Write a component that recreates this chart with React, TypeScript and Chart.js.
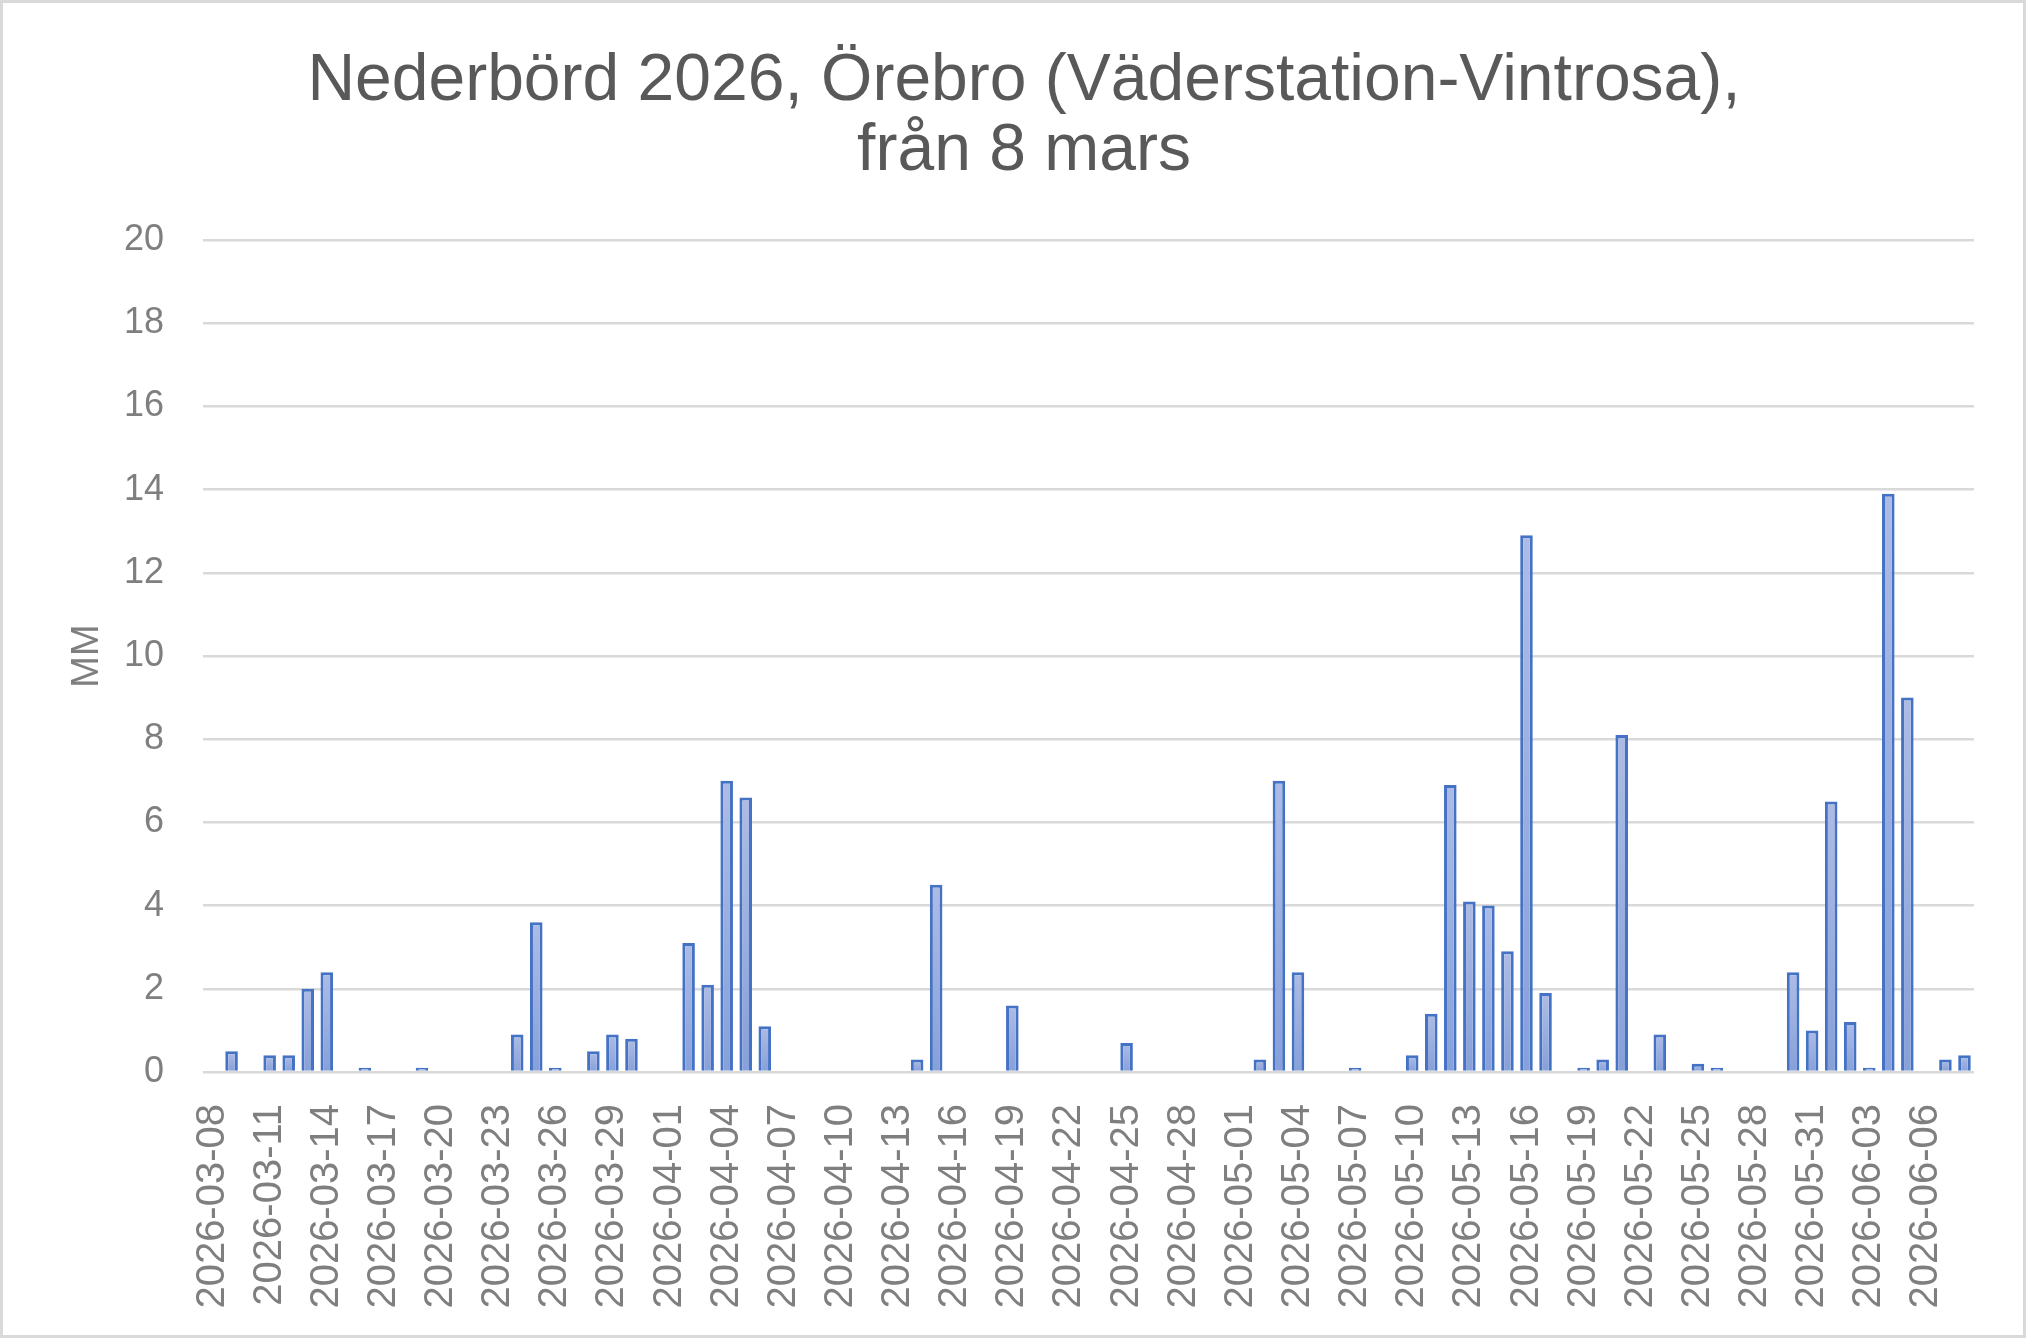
import React, { useEffect, useRef } from "react";
import { Chart, registerables } from "chart.js";

Chart.register(...registerables);

const titleLines = ["Nederbörd 2026, Örebro (Väderstation-Vintrosa),", "från 8 mars"];
const yAxisTitle = "MM";

const marchDates = [
  "2026-03-08", "2026-03-09", "2026-03-10", "2026-03-11", "2026-03-12", "2026-03-13", "2026-03-14", "2026-03-15",
  "2026-03-16", "2026-03-17", "2026-03-18", "2026-03-19", "2026-03-20", "2026-03-21", "2026-03-22", "2026-03-23",
  "2026-03-24", "2026-03-25", "2026-03-26", "2026-03-27", "2026-03-28", "2026-03-29", "2026-03-30", "2026-03-31",
];
const aprilDates = [
  "2026-04-01", "2026-04-02", "2026-04-03", "2026-04-04", "2026-04-05", "2026-04-06", "2026-04-07", "2026-04-08",
  "2026-04-09", "2026-04-10", "2026-04-11", "2026-04-12", "2026-04-13", "2026-04-14", "2026-04-15", "2026-04-16",
  "2026-04-17", "2026-04-18", "2026-04-19", "2026-04-20", "2026-04-21", "2026-04-22", "2026-04-23", "2026-04-24",
  "2026-04-25", "2026-04-26", "2026-04-27", "2026-04-28", "2026-04-29", "2026-04-30",
];
const mayDates = [
  "2026-05-01", "2026-05-02", "2026-05-03", "2026-05-04", "2026-05-05", "2026-05-06", "2026-05-07", "2026-05-08",
  "2026-05-09", "2026-05-10", "2026-05-11", "2026-05-12", "2026-05-13", "2026-05-14", "2026-05-15", "2026-05-16",
  "2026-05-17", "2026-05-18", "2026-05-19", "2026-05-20", "2026-05-21", "2026-05-22", "2026-05-23", "2026-05-24",
  "2026-05-25", "2026-05-26", "2026-05-27", "2026-05-28", "2026-05-29", "2026-05-30", "2026-05-31",
];
const juneDates = [
  "2026-06-01", "2026-06-02", "2026-06-03", "2026-06-04", "2026-06-05", "2026-06-06", "2026-06-07", "2026-06-08",
];

const marchMm = [0, 0.5, 0, 0.4, 0.4, 2.0, 2.4, 0, 0.1, 0, 0, 0.1, 0, 0, 0, 0, 0.9, 3.6, 0.1, 0, 0.5, 0.9, 0.8, 0];
const aprilMm = [0, 3.1, 2.1, 7.0, 6.6, 1.1, 0, 0, 0, 0, 0, 0, 0, 0.3, 4.5, 0, 0, 0, 1.6, 0, 0, 0, 0, 0, 0.7, 0, 0, 0, 0, 0];
const mayMm = [0, 0.3, 7.0, 2.4, 0, 0, 0.1, 0, 0, 0.4, 1.4, 6.9, 4.1, 4.0, 2.9, 12.9, 1.9, 0, 0.1, 0.3, 8.1, 0, 0.9, 0, 0.2, 0.1, 0, 0, 0, 2.4, 1.0];
const juneMm = [6.5, 1.2, 0.1, 13.9, 9.0, 0, 0.3, 0.4];

const yTicks = [0, 2, 4, 6, 8, 10, 12, 14, 16, 18, 20];
const labelEvery = 3;

const W = 2026;
const H = 1340;
const PAD_LEFT = 74;
const PAD_RIGHT = 52;
const PLOT_LEFT = 203;

export default function App() {
  const canvasRef = useRef<HTMLCanvasElement | null>(null);

  useEffect(() => {
    const canvas = canvasRef.current;
    if (!canvas) return;
    const categories = [...marchDates, ...aprilDates, ...mayDates, ...juneDates];
    const values = [...marchMm, ...aprilMm, ...mayMm, ...juneMm];

    const chart = new Chart(canvas, {
      type: "bar",
      data: {
        labels: categories,
        datasets: [
          {
            label: "Nederbörd",
            data: values,
            backgroundColor: (ctx: any) => {
              const fallback = "#9db0df";
              if (ctx.type !== "data") return fallback;
              const c = ctx.chart;
              const ys = c.scales && c.scales.y;
              if (!ys || !ctx.parsed) return fallback;
              const top = ys.getPixelForValue(ctx.parsed.y);
              const bot = ys.getPixelForValue(0);
              if (!(bot > top + 0.5) || !isFinite(top) || !isFinite(bot)) return fallback;
              const g = c.ctx.createLinearGradient(0, top, 0, bot);
              g.addColorStop(0, "#adbce5");
              g.addColorStop(1, "#87a0d9");
              return g;
            },
            borderColor: "#4472c4",
            borderWidth: 3,
            barPercentage: 0.66,
            categoryPercentage: 1.0,
          },
        ],
      },
      options: {
        responsive: false,
        animation: false,
        devicePixelRatio: 1,
        layout: { padding: { left: PAD_LEFT, right: PAD_RIGHT, top: 0, bottom: 0 } },
        plugins: {
          legend: { display: false },
          tooltip: { enabled: false },
          title: {
            display: true,
            text: titleLines,
            color: "#595959",
            font: { family: "'Liberation Sans', Arial, sans-serif", size: 66, weight: "normal", lineHeight: 70 / 66 },
            padding: { top: 46.5, bottom: 53.5 },
          },
        },
        scales: {
          x: {
            grid: { display: false },
            border: { display: false },
            ticks: {
              autoSkip: false,
              minRotation: 90,
              maxRotation: 90,
              padding: 24,
              color: "#7f7f7f",
              font: { family: "'Liberation Sans', Arial, sans-serif", size: 40 },
              callback: (_v: any, i: number) => (i % labelEvery === 0 ? categories[i] : ""),
            },
            afterFit: (s: any) => {
              s.height = 268;
              s.paddingLeft = 0;
              s.paddingRight = 0;
            },
          },
          y: {
            min: yTicks[0],
            max: yTicks[yTicks.length - 1],
            afterBuildTicks: (s: any) => {
              s.ticks = yTicks.map((v) => ({ value: v }));
            },
            ticks: {
              color: "#7f7f7f",
              padding: 39,
              font: { family: "'Liberation Sans', Arial, sans-serif", size: 36 },
            },
            grid: { color: "#d9d9d9", lineWidth: 2.5, drawTicks: false },
            border: { display: false },
            title: {
              display: true,
              text: yAxisTitle,
              color: "#7f7f7f",
              font: { family: "'Liberation Sans', Arial, sans-serif", size: 38, lineHeight: 1.2 },
              padding: { top: 88 - 22.8 - PAD_LEFT, bottom: 0 },
            },
            afterFit: (s: any) => {
              s.width = PLOT_LEFT - PAD_LEFT;
            },
          },
        },
      },
    });

    return () => chart.destroy();
  }, []);

  return (
    <div style={{ position: "absolute", left: 0, top: 0, width: W, height: H, background: "#ffffff", overflow: "hidden" }}>
      <canvas ref={canvasRef} width={W} height={H} style={{ position: "absolute", left: 0, top: 0, width: W, height: H }} />
      <div
        style={{
          position: "absolute",
          left: 0,
          top: 0,
          width: W,
          height: H - 2,
          boxSizing: "border-box",
          border: "3px solid #d9d9d9",
          pointerEvents: "none",
        }}
      />
    </div>
  );
}
